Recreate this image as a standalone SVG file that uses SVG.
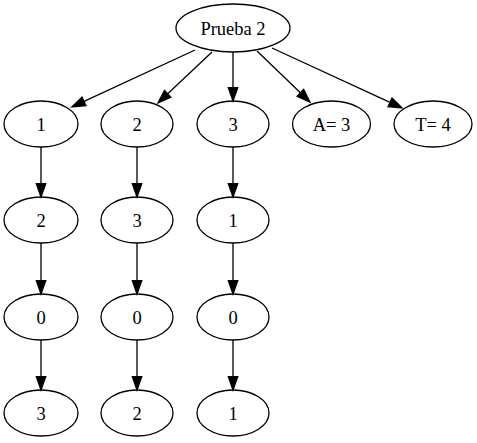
<svg xmlns="http://www.w3.org/2000/svg" width="477" height="443" viewBox="0 0 477 443">
  <style>
    .node ellipse { fill: none; stroke: #000; stroke-width: 1.3; }
    .node text { font-size: 18.5px; text-anchor: middle; fill: #000; }
    .edge { fill: none; stroke: #000; stroke-width: 1.3; marker-end: url(#arrow); }
  </style>
  <defs>
    <marker id="arrow" markerUnits="userSpaceOnUse" markerWidth="16" markerHeight="12" refX="0" refY="5" orient="auto" overflow="visible">
      <polygon points="0,0.3 13.3,5 0,9.7" fill="#000" stroke="#000" stroke-width="1.3"/>
    </marker>
  </defs>
  <rect width="477" height="443" fill="#fff"/>

  <g id="connectors">
    <!-- root to first rank -->
    <line class="edge" x1="195" y1="50" x2="84" y2="101.4"/>
    <line class="edge" x1="212" y1="52" x2="167.7" y2="93.8"/>
    <line class="edge" x1="233" y1="52" x2="233" y2="87.7"/>
    <line class="edge" x1="257" y1="51" x2="300.4" y2="92.8"/>
    <line class="edge" x1="272" y1="48" x2="390" y2="102.3"/>
    <!-- column 1 -->
    <line class="edge" x1="41" y1="147" x2="41" y2="183.7"/>
    <line class="edge" x1="41" y1="243" x2="41" y2="280.7"/>
    <line class="edge" x1="41" y1="340" x2="41" y2="376.7"/>
    <!-- column 2 -->
    <line class="edge" x1="137" y1="147" x2="137" y2="183.7"/>
    <line class="edge" x1="137" y1="243" x2="137" y2="280.7"/>
    <line class="edge" x1="137" y1="340" x2="137" y2="376.7"/>
    <!-- column 3 -->
    <line class="edge" x1="233" y1="147" x2="233" y2="183.7"/>
    <line class="edge" x1="233" y1="243" x2="233" y2="280.7"/>
    <line class="edge" x1="233" y1="340" x2="233" y2="376.7"/>
  </g>

  <g id="nodes" font-family="'Liberation Serif', 'Times New Roman', Times, serif">
  <g id="root" class="node">
    <ellipse cx="233" cy="28" rx="57" ry="24"/>
    <text x="233" y="34.5">Prueba 2</text>
  </g>

  <g id="n1" class="node"><ellipse cx="41" cy="124" rx="37" ry="23"/><text x="41" y="130.5">1</text></g>
  <g id="n2" class="node"><ellipse cx="137" cy="124" rx="36" ry="23"/><text x="137" y="130.5">2</text></g>
  <g id="n3" class="node"><ellipse cx="233" cy="124" rx="36" ry="23"/><text x="233" y="130.5">3</text></g>
  <g id="nA" class="node"><ellipse cx="331.5" cy="124" rx="39" ry="23"/><text x="331.5" y="130.5">A= 3</text></g>
  <g id="nT" class="node"><ellipse cx="433" cy="124" rx="39" ry="23"/><text x="433" y="130.5">T= 4</text></g>

  <g id="n1_2" class="node"><ellipse cx="41" cy="220" rx="37" ry="23"/><text x="41" y="226.5">2</text></g>
  <g id="n2_3" class="node"><ellipse cx="137" cy="220" rx="36" ry="23"/><text x="137" y="226.5">3</text></g>
  <g id="n3_1" class="node"><ellipse cx="233" cy="220" rx="36" ry="23"/><text x="233" y="226.5">1</text></g>

  <g id="n1_0" class="node"><ellipse cx="41" cy="317" rx="37" ry="23"/><text x="41" y="323.5">0</text></g>
  <g id="n2_0" class="node"><ellipse cx="137" cy="317" rx="36" ry="23"/><text x="137" y="323.5">0</text></g>
  <g id="n3_0" class="node"><ellipse cx="233" cy="317" rx="36" ry="23"/><text x="233" y="323.5">0</text></g>

  <g id="n1_3" class="node"><ellipse cx="41" cy="413" rx="37" ry="23"/><text x="41" y="419.5">3</text></g>
  <g id="n2_2" class="node"><ellipse cx="137" cy="413" rx="36" ry="23"/><text x="137" y="419.5">2</text></g>
  <g id="n3_1b" class="node"><ellipse cx="233" cy="413" rx="36" ry="23"/><text x="233" y="419.5">1</text></g>
  </g>
</svg>
